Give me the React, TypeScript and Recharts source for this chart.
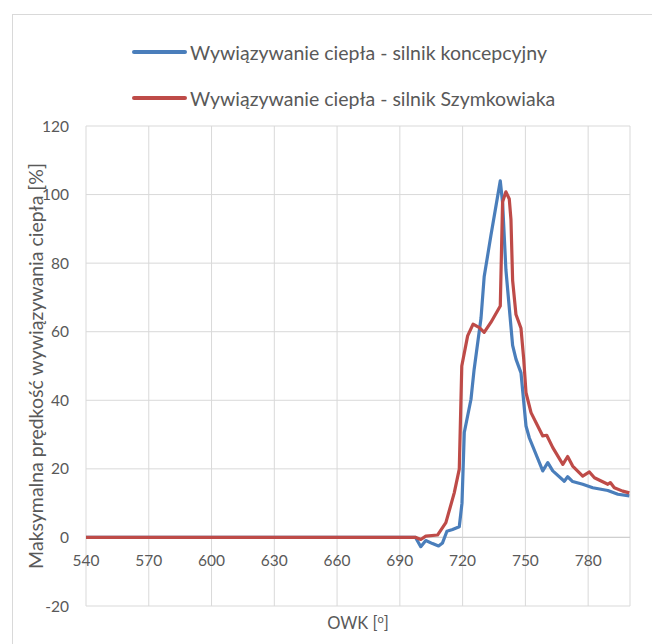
import React from 'react';
import { LineChart, Line, XAxis, YAxis, CartesianGrid, ReferenceLine } from 'recharts';

// --- DANE ---
const xTicks = [540, 570, 600, 630, 660, 690, 720, 750, 780];
const yTicks = [-20, 0, 20, 40, 60, 80, 100, 120];

// silnik koncepcyjny
const conceptX = [540, 697.5, 700, 702.4, 705.6, 708.5, 710.4, 712.5, 715.2, 718.4, 719.7, 720.8, 724, 725.5, 728.8, 730.3, 733.5, 738, 739.1, 740.7, 743.9, 745.5, 747.9, 750.3, 751.9, 758.3, 760.7, 763.1, 768.6, 770.2, 772.6, 777.4, 782.2, 789.4, 794.2, 799.7];
const conceptY = [0, 0, -2.7, -0.9, -1.8, -2.5, -1.6, 1.8, 2.3, 3.1, 10, 30.6, 40.3, 49, 64, 76, 88, 104, 97.7, 78, 56, 52, 48, 32.5, 29, 19.4, 21.8, 19.4, 16.4, 17.7, 16.3, 15.5, 14.5, 13.7, 12.6, 12.1];

// silnik Szymkowiaka
const szymX = [540, 697.7, 700, 702.4, 708, 712, 716, 718.4, 719.6, 722.4, 725, 728, 730.3, 733.5, 738, 739.1, 740.7, 742.3, 743.1, 743.9, 745.5, 747.9, 749.2, 750.3, 752.7, 755.9, 758.3, 760.2, 763.1, 767.9, 770.2, 772.6, 777.4, 780.6, 783, 789.4, 790.6, 792.5, 796.5, 799.7];
const szymY = [0, 0, -0.6, 0.4, 0.7, 4.3, 13, 19.9, 50, 58.8, 62.2, 61.2, 59.8, 62.7, 67.5, 97.8, 100.8, 98.7, 92.8, 75, 65, 61, 52, 42.2, 36.4, 32.5, 29.6, 29.8, 26.2, 21.3, 23.6, 20.8, 17.9, 19.1, 17.4, 15.5, 16, 14.5, 13.5, 13];

const SERIES = [
    { name: 'Wywiązywanie ciepła - silnik koncepcyjny', color: '#4a7ebb', xs: conceptX, ys: conceptY },
    { name: 'Wywiązywanie ciepła - silnik Szymkowiaka', color: '#be4b48', xs: szymX, ys: szymY },
];

// --- GEOMETRIA ---
const W = 652;
const H = 644;
const PLOT_LEFT = 86;
const PLOT_TOP = 126;
const PLOT_BOTTOM = 606;
const PLOT_RIGHT = 630;
const Y_MIN = -20;
const Y_MAX = 120;
const ZERO_Y = PLOT_BOTTOM - (PLOT_BOTTOM - PLOT_TOP) * (0 - Y_MIN) / (Y_MAX - Y_MIN);

const FONT = 'Lato, "Liberation Sans", sans-serif';
const TEXT = '#595959';

// etykiety osi X przy linii zera (jak w Excelu)
const ZeroTick = ({ x, payload }: any) => (
    <text x={x} y={ZERO_Y + 23} textAnchor="middle" dominantBaseline="central"
        fill={TEXT} fontSize={15.5} fontFamily={FONT}>
        {payload.value}
    </text>
);

export default function App() {
    return (
        <div style={{ position: 'absolute', left: 0, top: 0, width: W, height: H, overflow: 'hidden', background: '#fff', fontFamily: FONT }}>
            <div style={{ position: 'absolute', left: 12, top: 14, width: 700, height: 700, border: '1.5px solid #d9d9d9' }} />

            {/* legenda */}
            {SERIES.map((s, i) => (
                <div key={s.name} style={{ position: 'absolute', left: 132, top: 52 + i * 46 - 13, height: 26, display: 'flex', alignItems: 'center' }}>
                    <span style={{ display: 'inline-block', width: 55, height: 3.5, background: s.color, borderRadius: 2 }} />
                    <span style={{ marginLeft: 3, fontSize: 19.5, color: TEXT, whiteSpace: 'nowrap' }}>{s.name}</span>
                </div>
            ))}

            <LineChart width={W} height={H} margin={{ top: PLOT_TOP, right: W - PLOT_RIGHT, bottom: 8, left: 0 }}
                style={{ position: 'absolute', left: 0, top: 0 }}>
                <CartesianGrid stroke="#d9d9d9" strokeWidth={1} />
                <XAxis type="number" dataKey="x" domain={[540, 800]} ticks={xTicks} allowDataOverflow
                    axisLine={false} tickLine={false} height={H - 8 - PLOT_BOTTOM} tick={<ZeroTick />} />
                <YAxis type="number" domain={[Y_MIN, Y_MAX]} ticks={yTicks} width={PLOT_LEFT}
                    axisLine={false} tickLine={false} tickSize={0} tickMargin={17}
                    tick={{ fill: TEXT, fontSize: 15.5, fontFamily: FONT }}
                    label={{ value: 'Maksymalna prędkość wywiązywania ciepła [%]', angle: -90, position: 'center', dx: -7, fill: TEXT, fontSize: 19.5, fontFamily: FONT }} />
                <ReferenceLine y={0} stroke="#cfcfcf" strokeWidth={1.2} />
                {SERIES.map((s) => (
                    <Line key={s.name} data={s.xs.map((x, i) => ({ x, y: s.ys[i] }))} dataKey="y" name={s.name}
                        type="linear" stroke={s.color} strokeWidth={3.2} dot={false} strokeLinejoin="round"
                        isAnimationActive={false} />
                ))}
            </LineChart>

            <div style={{ position: 'absolute', left: PLOT_LEFT, width: PLOT_RIGHT - PLOT_LEFT, top: 613, textAlign: 'center', fontSize: 16.5, color: TEXT }}>
                OWK [<sup style={{ fontSize: 11, verticalAlign: 'top', position: 'relative', top: -1 }}>o</sup>]
            </div>
        </div>
    );
}
